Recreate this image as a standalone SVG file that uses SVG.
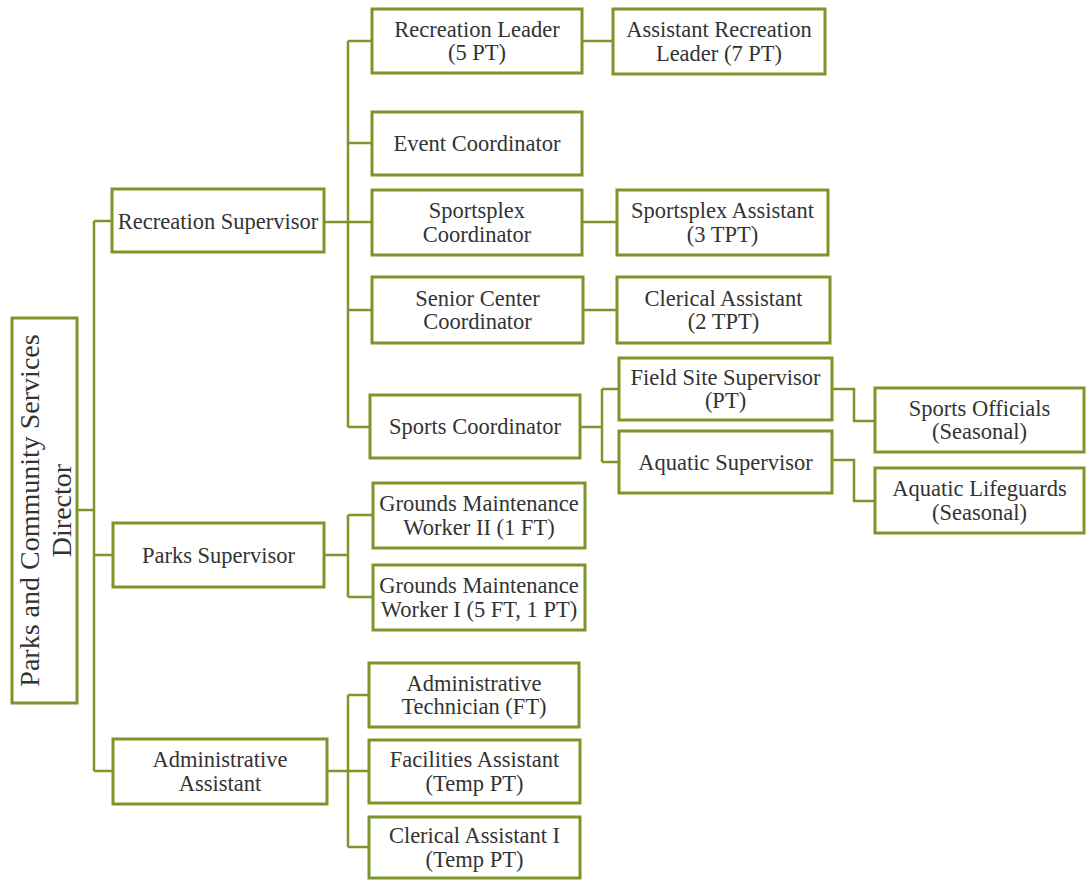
<svg xmlns="http://www.w3.org/2000/svg" width="1086" height="882" viewBox="0 0 1086 882">
  <style>
    .box { fill: #ffffff; stroke: #7d962a; stroke-width: 3; }
    .wire { fill: none; stroke: #7d962a; stroke-width: 2.5; stroke-linejoin: miter; }
    .lbl { font-family: "Liberation Serif", "Times New Roman", serif; font-size: 22.5px; fill: #333333; text-anchor: middle; }
    .dir { font-size: 28px; }
  </style>
  <rect x="0" y="0" width="1086" height="882" fill="#ffffff"/>

  <!-- connectors -->
  <g id="connectors" class="wire">
    <!-- director to supervisors -->
    <path d="M77 510 H94"/>
    <path d="M94 221 V771"/>
    <path d="M94 221 H113 M94 555 H113 M94 771 H113"/>
    <!-- recreation branch -->
    <path d="M324 222 H372"/>
    <path d="M348 41 V427"/>
    <path d="M348 41 H372 M348 143 H372 M348 310 H372 M348 427 H370"/>
    <path d="M582 41 H613"/>
    <path d="M582 222 H617"/>
    <path d="M583 310 H617"/>
    <!-- sports coordinator -->
    <path d="M580 427 H602 M602 389 V462 M602 389 H619 M602 462 H619"/>
    <path d="M832 389 H854 V421 H875"/>
    <path d="M832 460 H854 V501 H875"/>
    <!-- parks branch -->
    <path d="M324 555 H348 M348 515 V597 M348 515 H373 M348 597 H373"/>
    <!-- administrative branch -->
    <path d="M327 771 H369 M348 695 V847 M348 695 H369 M348 847 H369"/>
  </g>

  <!-- director -->
  <g id="director">
    <rect class="box" x="12" y="318" width="65" height="385"/>
    <g transform="translate(44.5,510.5) rotate(-90)">
      <text class="lbl dir" x="0" y="-5.5">Parks and Community Services</text>
      <text class="lbl dir" x="0" y="26.5">Director</text>
    </g>
  </g>

  <!-- supervisors -->
  <g id="recreation-supervisor">
    <rect class="box" x="112" y="189" width="212" height="63"/>
    <text class="lbl" x="218" y="228.5">Recreation Supervisor</text>
  </g>
  <g id="parks-supervisor">
    <rect class="box" x="113" y="523" width="211" height="64"/>
    <text class="lbl" x="218.5" y="562.5">Parks Supervisor</text>
  </g>
  <g id="administrative-assistant">
    <rect class="box" x="113" y="739" width="214" height="65"/>
    <text class="lbl" x="220" y="767">Administrative</text>
    <text class="lbl" x="220" y="790.5">Assistant</text>
  </g>

  <!-- recreation staff -->
  <g id="recreation-leader">
    <rect class="box" x="372" y="9" width="210" height="64"/>
    <text class="lbl" x="477" y="36.75">Recreation Leader</text>
    <text class="lbl" x="477" y="60.25">(5 PT)</text>
  </g>
  <g id="assistant-recreation-leader">
    <rect class="box" x="613" y="9" width="212" height="65"/>
    <text class="lbl" x="719" y="37.25">Assistant Recreation</text>
    <text class="lbl" x="719" y="60.75">Leader (7 PT)</text>
  </g>
  <g id="event-coordinator">
    <rect class="box" x="372" y="112" width="210" height="63"/>
    <text class="lbl" x="477" y="151">Event Coordinator</text>
  </g>
  <g id="sportsplex-coordinator">
    <rect class="box" x="372" y="190" width="210" height="65"/>
    <text class="lbl" x="477" y="218.25">Sportsplex</text>
    <text class="lbl" x="477" y="241.75">Coordinator</text>
  </g>
  <g id="sportsplex-assistant">
    <rect class="box" x="617" y="190" width="211" height="65"/>
    <text class="lbl" x="722.5" y="218.25">Sportsplex Assistant</text>
    <text class="lbl" x="722.5" y="241.75">(3 TPT)</text>
  </g>
  <g id="senior-center-coordinator">
    <rect class="box" x="372" y="277" width="211" height="66"/>
    <text class="lbl" x="477.5" y="305.75">Senior Center</text>
    <text class="lbl" x="477.5" y="329.25">Coordinator</text>
  </g>
  <g id="clerical-assistant">
    <rect class="box" x="617" y="277" width="213" height="66"/>
    <text class="lbl" x="723.5" y="305.75">Clerical Assistant</text>
    <text class="lbl" x="723.5" y="329.25">(2 TPT)</text>
  </g>
  <g id="sports-coordinator">
    <rect class="box" x="370" y="395" width="210" height="63"/>
    <text class="lbl" x="475" y="434">Sports Coordinator</text>
  </g>
  <g id="field-site-supervisor">
    <rect class="box" x="619" y="358" width="213" height="62"/>
    <text class="lbl" x="725.5" y="384.75">Field Site Supervisor</text>
    <text class="lbl" x="725.5" y="408.25">(PT)</text>
  </g>
  <g id="aquatic-supervisor">
    <rect class="box" x="619" y="431" width="213" height="62"/>
    <text class="lbl" x="725.5" y="469.5">Aquatic Supervisor</text>
  </g>
  <g id="sports-officials">
    <rect class="box" x="875" y="388" width="209" height="64"/>
    <text class="lbl" x="979.5" y="415.75">Sports Officials</text>
    <text class="lbl" x="979.5" y="439.25">(Seasonal)</text>
  </g>
  <g id="aquatic-lifeguards">
    <rect class="box" x="875" y="468" width="209" height="65"/>
    <text class="lbl" x="979.5" y="496.25">Aquatic Lifeguards</text>
    <text class="lbl" x="979.5" y="519.75">(Seasonal)</text>
  </g>

  <!-- parks staff -->
  <g id="grounds-maintenance-worker-ii">
    <rect class="box" x="373" y="483" width="212" height="65"/>
    <text class="lbl" x="479" y="511.25">Grounds Maintenance</text>
    <text class="lbl" x="479" y="534.75">Worker II (1 FT)</text>
  </g>
  <g id="grounds-maintenance-worker-i">
    <rect class="box" x="373" y="565" width="212" height="65"/>
    <text class="lbl" x="479" y="593.25">Grounds Maintenance</text>
    <text class="lbl" x="479" y="616.75">Worker I (5 FT, 1 PT)</text>
  </g>

  <!-- administrative staff -->
  <g id="administrative-technician">
    <rect class="box" x="369" y="663" width="210" height="64"/>
    <text class="lbl" x="474" y="690.75">Administrative</text>
    <text class="lbl" x="474" y="714.25">Technician (FT)</text>
  </g>
  <g id="facilities-assistant">
    <rect class="box" x="369" y="740" width="211" height="63"/>
    <text class="lbl" x="474.5" y="767.25">Facilities Assistant</text>
    <text class="lbl" x="474.5" y="790.75">(Temp PT)</text>
  </g>
  <g id="clerical-assistant-i">
    <rect class="box" x="369" y="817" width="211" height="61"/>
    <text class="lbl" x="474.5" y="843.25">Clerical Assistant I</text>
    <text class="lbl" x="474.5" y="866.75">(Temp PT)</text>
  </g>
</svg>
